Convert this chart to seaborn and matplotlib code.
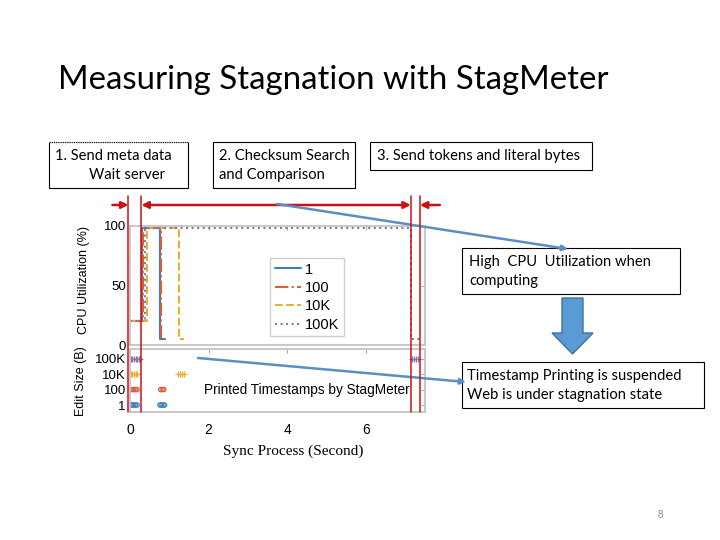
import pandas as pd
import seaborn as sns
import matplotlib.pyplot as plt
from matplotlib.patches import Rectangle, FancyArrowPatch, Polygon

# CPU utilisation traces per edit size (time in s, utilisation in %)
sizes = ["1", "100", "10K", "100K"]
t_1 = [0.0, 0.30, 0.30, 0.77, 0.77, 0.90]
cpu_1 = [20, 20, 98, 98, 5, 5]
t_100 = [0.0, 0.33, 0.33, 0.78, 0.78, 0.92]
cpu_100 = [20, 20, 98, 98, 5, 5]
t_10k = [0.0, 0.43, 0.43, 1.25, 1.25, 1.38]
cpu_10k = [20, 20, 98, 98, 5, 5]
t_100k = [0.0, 0.38, 0.38, 7.15, 7.15, 7.40]
cpu_100k = [20, 20, 98, 98, 5, 5]

# timestamps printed by StagMeter (s)
ts_1 = [0.02, 0.06, 0.10, 0.14, 0.18, 0.76, 0.80, 0.84, 0.88]
ts_100 = [0.02, 0.06, 0.10, 0.14, 0.18, 0.78, 0.82, 0.86]
ts_10k = [0.02, 0.06, 0.10, 0.14, 0.18, 1.22, 1.27, 1.32, 1.37]
ts_100k = [0.02, 0.06, 0.10, 0.14, 0.18, 0.22, 0.26, 7.16, 7.21, 7.26, 7.31]

# phase boundaries drawn as red lines (s)
phase_bounds = [-0.04, 0.29, 7.14, 7.37]

colors = ["#3f7db8", "#d2603a", "#e6b030", "#8f72a8"]
styles = ["-", "-.", "--", ":"]

cpu = pd.concat([
    pd.DataFrame({"t": t, "cpu": c, "size": s})
    for t, c, s in zip([t_1, t_100, t_10k, t_100k],
                       [cpu_1, cpu_100, cpu_10k, cpu_100k], sizes)
])
stamps = pd.concat([
    pd.DataFrame({"t": t, "lvl": i + 1, "size": s})
    for i, (t, s) in enumerate(zip([ts_1, ts_100, ts_10k, ts_100k], sizes))
])

sns.set_style("white")
plt.rcParams["font.family"] = ["Liberation Sans", "DejaVu Sans"]
for k in ["text.color", "axes.labelcolor", "xtick.labelcolor", "ytick.labelcolor"]:
    plt.rcParams[k] = "black"

fig = plt.figure(figsize=(7.2, 5.4), dpi=100)
ax_cpu = fig.add_axes([130 / 720, 1 - 345 / 540, 295 / 720, 119 / 540])
ax_ts = fig.add_axes([130 / 720, 1 - 412 / 540, 295 / 720, 63 / 540])

for (s, grp), col, ls in zip(cpu.groupby("size", sort=False), colors, styles):
    sns.lineplot(data=grp, x="t", y="cpu", estimator=None, sort=False,
                 color=col, linestyle=ls, linewidth=1.5, label=s, ax=ax_cpu)

markers = ["o", "o", "+", "+"]
for (s, grp), col, m in zip(stamps.groupby("size", sort=False), colors, markers):
    if m == "o":
        sns.scatterplot(data=grp, x="t", y="lvl", marker="o", s=10,
                        facecolor="none", edgecolor=col, linewidth=0.8, ax=ax_ts)
    else:
        sns.scatterplot(data=grp, x="t", y="lvl", marker="+", s=14,
                        color=col, linewidth=0.9, ax=ax_ts)

for ax in (ax_cpu, ax_ts):
    ax.set_xlim(0, 7.5)
    ax.set_xticks([0, 2, 4, 6])
    ax.tick_params(direction="in", length=3, color="#aaaaaa", labelsize=9.5,
                   top=True, right=True, pad=3)
    ax.tick_params(axis="x", pad=8, labelsize=10)
    for sp in ax.spines.values():
        sp.set_color("#c4c4c4")
        sp.set_linewidth(1.3)

ax_cpu.set_ylim(0, 100)
ax_cpu.set_yticks([0, 50, 100])
ax_cpu.set_xticklabels([])
ax_cpu.set_xlabel("")
ax_cpu.set_ylabel("CPU Utilization (%)", fontsize=9)
ax_cpu.yaxis.set_label_coords(-0.135, 0.546)
leg = ax_cpu.legend(loc="lower left", bbox_to_anchor=(0.475, 0.075), fontsize=10.5,
                    frameon=True, fancybox=False, handlelength=1.8, borderaxespad=0,
                    borderpad=0.3, labelspacing=0.3, handletextpad=0.3)
leg.get_frame().set_edgecolor("#c4c4c4")

ax_ts.set_ylim(0.55, 4.62)
ax_ts.set_yticks([1, 2, 3, 4])
ax_ts.set_yticklabels(sizes)
ax_ts.set_xlabel("")
ax_ts.set_ylabel("Edit Size (B)", fontsize=9)
ax_ts.yaxis.set_label_coords(-0.145, 0.49)
ax_ts.text(7.1, 2, "Printed Timestamps by StagMeter", ha="right", va="center",
           fontsize=9.8)

# overlay in pixel coordinates for slide annotations
ov = fig.add_axes([0, 0, 1, 1], zorder=5)
ov.set_xlim(0, 720)
ov.set_ylim(540, 0)
ov.axis("off")

ov.text(58, 80, "Measuring Stagnation with StagMeter", fontsize=23.8,
        family="Lato", va="center", ha="left")

box_font = dict(family="Lato", fontsize=10.6, va="center", ha="left")
ov.add_patch(Rectangle((49, 142), 139, 46, fill=False, lw=0.8, ec="black"))
ov.plot([49, 188], [142, 142], color="white", lw=1.2)
ov.plot([49, 188], [142, 142], color="black", lw=0.8, ls=(0, (1, 1)))
ov.text(55, 156, "1. Send meta data", **box_font)
ov.text(89, 175, "Wait server", **box_font)
ov.add_patch(Rectangle((213, 142), 142, 46, fill=False, lw=0.8, ec="black"))
ov.text(219, 156, "2. Checksum Search", **box_font)
ov.text(219, 175, "and Comparison", **box_font)
ov.add_patch(Rectangle((370, 142), 222, 28, fill=False, lw=0.8, ec="black"))
ov.text(377, 156, "3. Send tokens and literal bytes", **box_font)

ov.add_patch(Rectangle((462, 248), 218, 46, fc="white", lw=0.8, ec="black"))
ov.text(469, 262, "High  CPU  Utilization when", **box_font)
ov.text(469, 281, "computing", **box_font)
ov.add_patch(Rectangle((462, 362), 242, 46, fc="white", lw=0.8, ec="black"))
ov.text(467, 376, "Timestamp Printing is suspended", **box_font)
ov.text(467, 395, "Web is under stagnation state", **box_font)

ov.add_patch(Polygon([(562, 298), (583, 298), (583, 333), (593, 333),
                      (572.5, 354), (552, 333), (562, 333)],
                     closed=True, fc="#5b9bd5", ec="#41719c", lw=1))

# red phase markers, placed from the chart's own x scale
red = "#cc1111"
px = [ax_cpu.transData.transform((b, 0))[0] for b in phase_bounds]
for x in px:
    ov.plot([x, x], [196, 412], color=red, lw=1.1)
arrow_kw = dict(color=red, lw=1.8, mutation_scale=10, shrinkA=0, shrinkB=0)
ov.add_patch(FancyArrowPatch((px[0] - 16, 205), (px[0], 205), arrowstyle="-|>", **arrow_kw))
ov.add_patch(FancyArrowPatch((px[1], 205), (px[2], 205), arrowstyle="<|-|>", **arrow_kw))
ov.add_patch(FancyArrowPatch((px[3] + 20, 205), (px[3], 205), arrowstyle="-|>", **arrow_kw))

blue = "#5a8fc6"
ov.add_patch(FancyArrowPatch((277, 204), (568, 249), arrowstyle="-|>",
                             color=blue, lw=1.8, mutation_scale=8, shrinkA=0, shrinkB=0))
ov.add_patch(FancyArrowPatch((198, 358), (466, 382), arrowstyle="-|>",
                             color=blue, lw=1.8, mutation_scale=8, shrinkA=0, shrinkB=0))

ov.text(293, 451, "Sync Process (Second)", family="Liberation Serif", fontsize=11,
        ha="center", va="center")
ov.text(660, 515, "8", fontsize=7, color="#888888", ha="center", va="center")

fig.savefig("out.png", dpi=100)
